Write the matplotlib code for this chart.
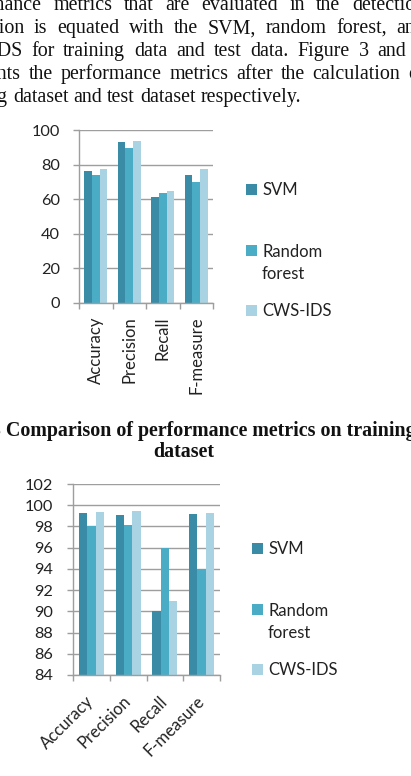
import matplotlib
matplotlib.use("Agg")
import matplotlib.pyplot as plt
from matplotlib.patches import Rectangle
import numpy as np

# ---------------- data ----------------
categories = ["Accuracy", "Precision", "Recall", "F-measure"]
series_names = ["SVM", "Random\nforest", "CWS-IDS"]
colors = ["#3a8ca6", "#4bacc6", "#a9d3e3"]

train_svm = [76.5, 92.9, 61.5, 74.0]
train_rf = [74.0, 89.8, 63.8, 69.8]
train_cws = [77.7, 93.8, 65.0, 77.7]
train_yticks = [0, 20, 40, 60, 80, 100]

test_svm = [99.3, 99.1, 90.0, 99.2]
test_rf = [98.0, 98.1, 96.0, 94.0]
test_cws = [99.4, 99.5, 91.0, 99.3]
test_yticks = [84, 86, 88, 90, 92, 94, 96, 98, 100, 102]

body_lines = [
    "performance metrics that are evaluated in the detection",
    "evaluation is equated with the SVM, random forest, and",
    "CWS-IDS for training data and test data. Figure 3 and 4",
    "represents the performance metrics after the calculation of",
    "training dataset and test dataset respectively.",
]
caption_lines = ["Fig. 3 Comparison of performance metrics on training", "dataset"]

# ---------------- figure ----------------
W, H = 411, 776
fig = plt.figure(figsize=(W / 100, H / 100), dpi=100)
fig.patch.set_facecolor("white")


def fx(x):
    return x / W


def fy(y):
    return 1 - y / H


renderer = fig.canvas.get_renderer()

# body text (justified, clipped by page edges like the reference)
serif = "Liberation Serif"
body_fs = 14.4
line_left = [-59, -59, -60, -60, -54]
R = 425
base0, lstep = 10, 23.1
for i, line in enumerate(body_lines):
    words = line.split(" ")
    texts = [fig.text(0, fy(base0 + i * lstep), w, family=serif, fontsize=body_fs,
                      va="baseline", ha="left", color="#111111") for w in words]
    widths = [t.get_window_extent(renderer).width for t in texts]
    L = line_left[i]
    if i == len(body_lines) - 1:
        gap = 5.0
    else:
        gap = (R - L - sum(widths)) / (len(words) - 1)
    x = L
    for t, w in zip(texts, widths):
        t.set_x(fx(x))
        x += w + gap

# caption
for i, line in enumerate(caption_lines):
    fig.text(fx(184), fy(436 + i * 21), line, family=serif, fontsize=14.4,
             fontweight="bold", ha="center", va="baseline", color="#111111")

sans = "Lato"
grid_c = "#9e9e9e"
tick_c = "#222222"


def style_axes(ax, yticks, ylim):
    ax.set_xlim(-0.5, len(categories) - 0.5)
    ax.set_ylim(*ylim)
    ax.set_yticks(yticks)
    ax.set_yticklabels([str(v) for v in yticks], family=sans, fontsize=11.7, color=tick_c)
    ax.yaxis.grid(True, color=grid_c, linewidth=1.0)
    ax.set_axisbelow(True)
    for s in ["top", "right"]:
        ax.spines[s].set_visible(False)
    for s in ["left", "bottom"]:
        ax.spines[s].set_color(grid_c)
        ax.spines[s].set_linewidth(1.0)
    ax.set_xticks(np.arange(len(categories)))
    ax.set_xticks(np.arange(len(categories) + 1) - 0.5, minor=True)
    ax.tick_params(axis="x", which="major", length=0)
    ax.tick_params(axis="x", which="minor", length=4.3, color=grid_c, width=1.0)
    ax.tick_params(axis="y", length=4.3, color=grid_c, width=1.0)


def draw_bars(ax, vals_list, bw):
    x = np.arange(len(categories))
    for k, vals in enumerate(vals_list):
        ax.bar(x + (k - 1) * bw, vals, width=bw, color=colors[k], linewidth=0)


# ---- top chart (training) ----
ax1 = fig.add_axes([fx(79), fy(303), 134 / W, 173 / H])
draw_bars(ax1, [train_svm, train_rf, train_cws], 0.224)
style_axes(ax1, train_yticks, (0, 100))
ax1.tick_params(axis="y", pad=9.4)
ax1.set_xticklabels(categories, family=sans, fontsize=12, color=tick_c,
                    rotation=90, ha="center", va="top")
ax1.tick_params(axis="x", which="major", pad=9.4)

# ---- bottom chart (test) ----
ax2 = fig.add_axes([fx(73), fy(675), 147 / W, 191 / H])
draw_bars(ax2, [test_svm, test_rf, test_cws], 0.227)
style_axes(ax2, test_yticks, (84, 102))
ax2.tick_params(axis="y", pad=10)
ax2.set_xticklabels(categories, family=sans, fontsize=12, color=tick_c,
                    rotation=45, ha="right", va="center", rotation_mode="anchor")
ax2.tick_params(axis="x", which="major", pad=17)


# ---- legends (manual, patch aligned with the first label line) ----
def legend(px, tx, ys, step=23):
    for k, (name, yc) in enumerate(zip(series_names, ys)):
        fig.add_artist(Rectangle((fx(px), fy(yc + 5.5)), 11 / W, 11 / H,
                                 transform=fig.transFigure, color=colors[k], lw=0))
        n = name.count("\n")
        fig.text(fx(tx), fy(yc + 6 + n * step), name, family=sans, fontsize=12,
                 color=tick_c, ha="left", va="baseline", linespacing=1.45)


legend(246, 262, [189, 250, 310])
legend(252, 268, [548, 609, 669])

fig.savefig("out.png", dpi=100)
